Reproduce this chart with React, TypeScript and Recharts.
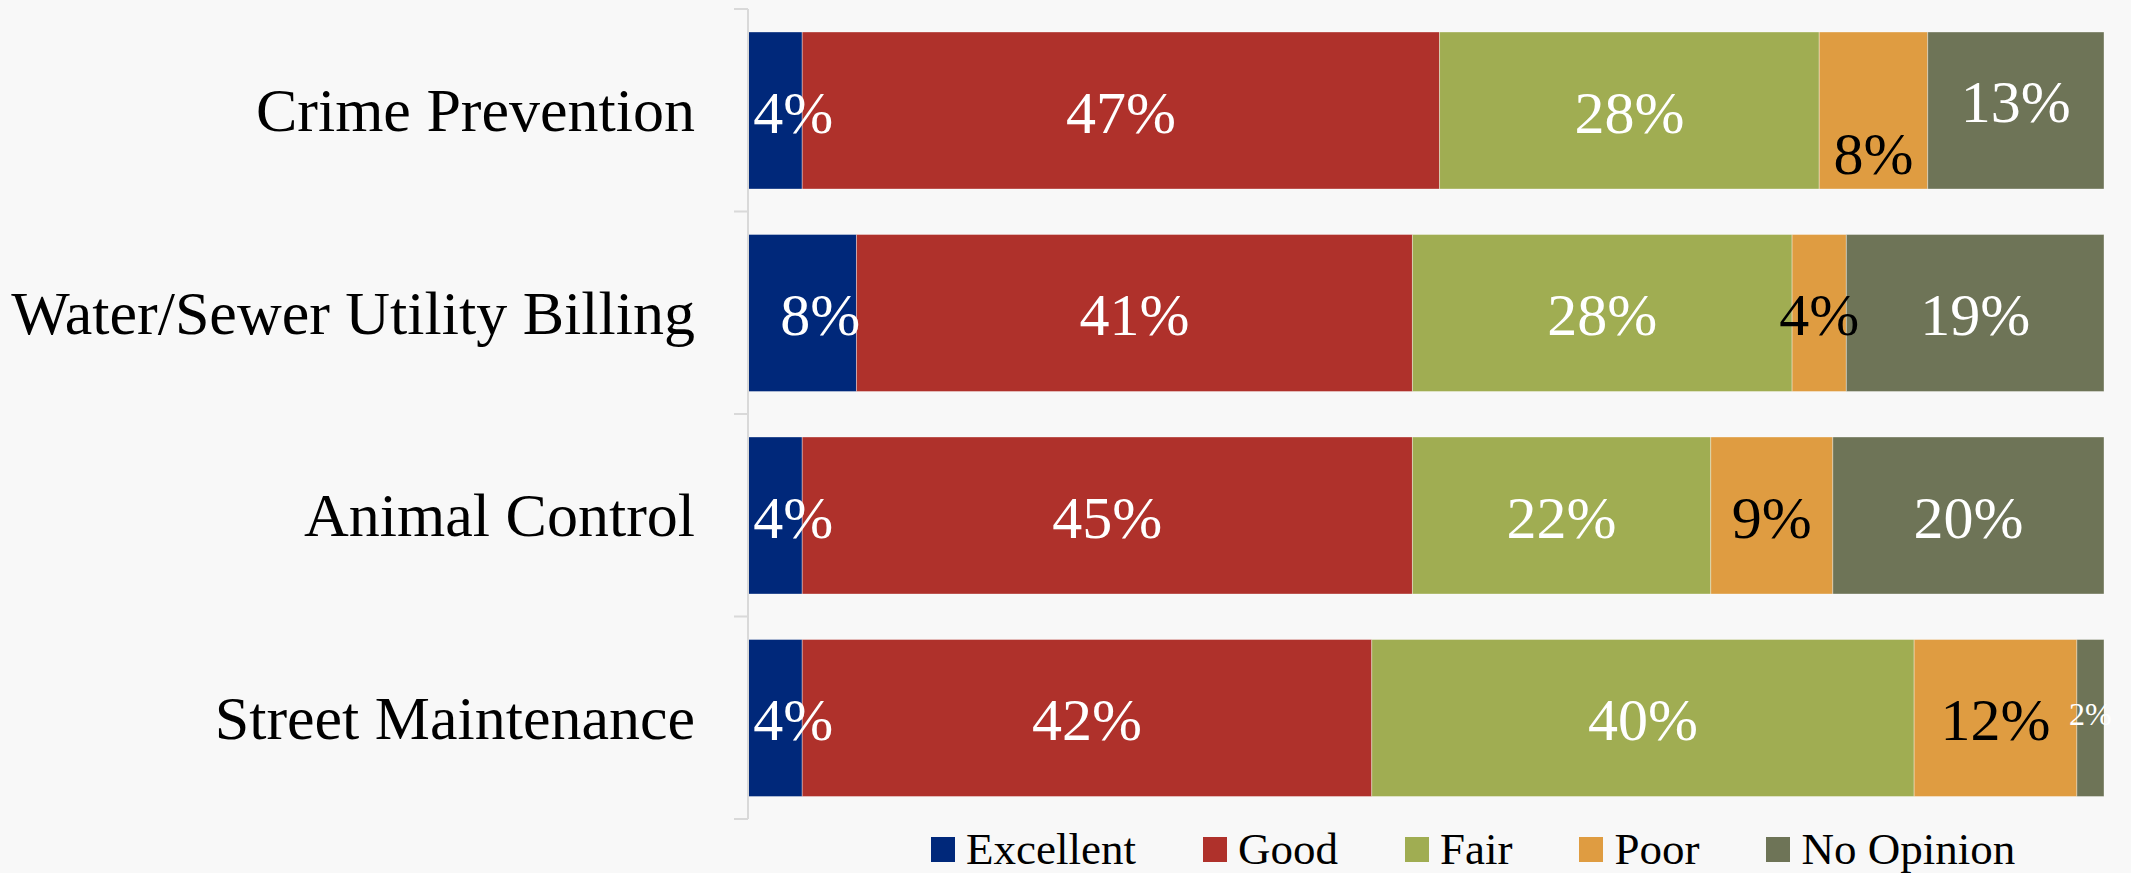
import React from "react";
import { BarChart, Bar, XAxis, YAxis, Legend, LabelList } from "recharts";

const categories = [
  "Crime Prevention",
  "Water/Sewer Utility Billing",
  "Animal Control",
  "Street Maintenance",
];
const excellent = [4, 8, 4, 4];
const good = [47, 41, 45, 42];
const fair = [28, 28, 22, 40];
const poor = [8, 4, 9, 12];
const noOpinion = [13, 19, 20, 2];

const series = [
  { key: "Excellent", values: excellent, color: "#00287A", text: "#ffffff", dx: 18 },
  { key: "Good", values: good, color: "#AF312B", text: "#ffffff", dx: 0 },
  { key: "Fair", values: fair, color: "#A0AD52", text: "#ffffff", dx: 0 },
  { key: "Poor", values: poor, color: "#DF9C41", text: "#000000", dx: 0 },
  { key: "No Opinion", values: noOpinion, color: "#6E7457", text: "#ffffff", dx: 0 },
];

// labels that were dragged by hand in the original deck
const labelNudge: Record<string, number> = {
  "Crime Prevention|Poor": 41,
  "Crime Prevention|No Opinion": -11,
};

const data = categories.map((name, i) => {
  const row: Record<string, string | number> = { name };
  series.forEach((s) => (row[s.key] = s.values[i]));
  return row;
});

const FONT = "'Liberation Serif', 'Times New Roman', serif";

const CategoryTick = (props: any) => {
  const { x, y, payload, index, visibleTicksCount } = props;
  const ax = x + 53;
  const half = payload?.offset || 101;
  const last = index === (visibleTicksCount ?? categories.length) - 1;
  return (
    <g>
      <line x1={ax - 14} x2={ax} y1={y - half} y2={y - half} stroke="#D9D9D9" strokeWidth={2} />
      {last && (
        <line x1={ax - 14} x2={ax} y1={y + half} y2={y + half} stroke="#D9D9D9" strokeWidth={2} />
      )}
      <text x={x} y={y} textAnchor="end" dominantBaseline="central" fontFamily={FONT} fontSize={62} fill="#000">
        {payload.value}
      </text>
    </g>
  );
};

const makeLabel = (s: (typeof series)[number]) => (props: any) => {
  const { x, y, width, height, value, index } = props;
  const small = value < 3;
  const dy = labelNudge[`${categories[index]}|${s.key}`] ?? 0;
  return (
    <text
      x={x + width / 2 + s.dx}
      y={y + height / 2 + (small ? -4 : 2) + dy}
      textAnchor="middle"
      dominantBaseline="central"
      fontFamily={FONT}
      fontSize={small ? 32 : 60}
      fill={s.text}
    >
      {value}%
    </text>
  );
};

const LegendContent = () => (
  <div style={{ display: "flex", alignItems: "center", gap: 67, height: 42, fontFamily: FONT, fontSize: 45, whiteSpace: "nowrap" }}>
    {series.map((s) => (
      <div key={s.key} style={{ display: "flex", alignItems: "center", gap: 11 }}>
        <span style={{ display: "inline-block", width: 24, height: 25, background: s.color }} />
        <span style={{ color: "#000", lineHeight: "42px" }}>{s.key}</span>
      </div>
    ))}
  </div>
);

export default function App() {
  return (
    <div style={{ position: "absolute", left: 0, top: 0, width: 2131, height: 873, background: "#F8F8F8", overflow: "hidden" }}>
      <BarChart
        width={2131}
        height={873}
        data={data}
        layout="vertical"
        margin={{ top: 9, right: 27, bottom: 54, left: 0 }}
        barSize={157}
      >
        <XAxis type="number" domain={[0, 100]} hide />
        <YAxis
          type="category"
          dataKey="name"
          width={748}
          axisLine={{ stroke: "#D9D9D9", strokeWidth: 2 }}
          tickLine={false}
          tickSize={0}
          tickMargin={53}
          tick={<CategoryTick />}
          interval={0}
        />
        <Legend
          layout="horizontal"
          verticalAlign="middle"
          align="center"
          content={<LegendContent />}
          wrapperStyle={{ top: 828, left: 931, width: "auto" }}
        />
        {series.map((s) => (
          <Bar
            key={s.key}
            dataKey={s.key}
            stackId="a"
            fill={s.color}
            stroke="#ffffff"
            strokeOpacity={0.35}
            strokeWidth={1}
            isAnimationActive={false}
          >
            <LabelList dataKey={s.key} content={makeLabel(s)} />
          </Bar>
        ))}
      </BarChart>
    </div>
  );
}
